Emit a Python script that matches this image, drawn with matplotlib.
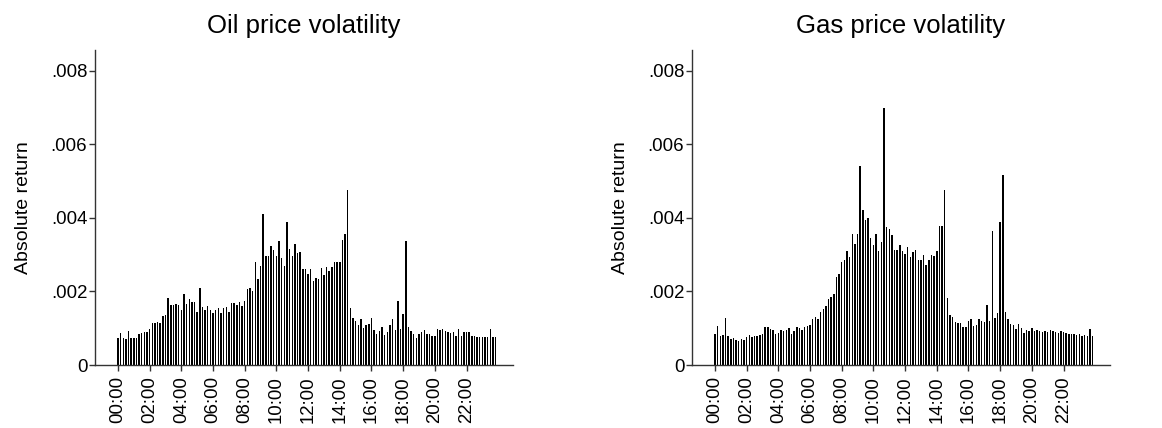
import matplotlib
matplotlib.use("Agg")
import matplotlib.pyplot as plt
import numpy as np

plt.rcParams['font.family'] = ['Liberation Sans', 'DejaVu Sans']

# mean absolute 10-minute returns over the trading day (144 slots)
oil_vol = [
    .00073, .00086, .00074, .00070, .00093, .00073, .00074, .00074, .00083, .00086,
    .00090, .00089, .00097, .00113, .00113, .00118, .00113, .00132, .00136, .00181,
    .00163, .00163, .00166, .00163, .00150, .00193, .00165, .00180, .00172, .00171,
    .00143, .00209, .00157, .00150, .00160, .00150, .00140, .00150, .00156, .00140,
    .00154, .00157, .00143, .00169, .00169, .00162, .00172, .00160, .00174, .00207,
    .00209, .00200, .00280, .00234, .00270, .00410, .00297, .00297, .00324, .00313,
    .00297, .00336, .00290, .00270, .00388, .00315, .00297, .00330, .00303, .00307,
    .00260, .00260, .00247, .00260, .00227, .00236, .00235, .00264, .00245, .00267,
    .00256, .00267, .00280, .00280, .00280, .00340, .00356, .00476, .00154, .00129,
    .00120, .00109, .00125, .00100, .00110, .00112, .00127, .00095, .00084, .00092,
    .00102, .00082, .00090, .00110, .00124, .00095, .00174, .00099, .00139, .00338,
    .00104, .00093, .00085, .00074, .00084, .00091, .00096, .00085, .00085, .00080,
    .00080, .00097, .00095, .00097, .00093, .00090, .00088, .00090, .00080, .00097,
    .00078, .00090, .00090, .00090, .00080, .00078, .00077, .00075, .00077, .00075,
    .00077, .00098, .00077, .00075,
]

gas_vol = [
    .00084, .00106, .00080, .00081, .00127, .00080, .00072, .00073, .00067, .00066,
    .00072, .00067, .00077, .00081, .00075, .00080, .00078, .00082, .00084, .00102,
    .00103, .00099, .00095, .00085, .00088, .00095, .00092, .00094, .00101, .00084,
    .00092, .00103, .00100, .00095, .00104, .00106, .00109, .00125, .00131, .00125,
    .00145, .00152, .00160, .00179, .00186, .00193, .00239, .00246, .00279, .00285,
    .00310, .00294, .00355, .00330, .00355, .00540, .00420, .00395, .00400, .00346,
    .00325, .00356, .00310, .00333, .00698, .00375, .00370, .00352, .00312, .00312,
    .00325, .00310, .00302, .00320, .00294, .00308, .00312, .00284, .00286, .00300,
    .00272, .00286, .00300, .00297, .00310, .00378, .00378, .00476, .00181, .00136,
    .00130, .00117, .00115, .00115, .00104, .00104, .00120, .00124, .00106, .00110,
    .00125, .00119, .00118, .00164, .00120, .00363, .00129, .00142, .00389, .00515,
    .00143, .00125, .00112, .00109, .00098, .00112, .00100, .00087, .00096, .00093,
    .00100, .00093, .00095, .00092, .00090, .00093, .00090, .00095, .00092, .00090,
    .00088, .00093, .00090, .00087, .00085, .00083, .00085, .00082, .00083, .00080,
    .00082, .00080, .00098, .00080,
]

hour_labels = ["%02d:00" % h for h in range(0, 24, 2)]
y_ticks = [0, .002, .004, .006, .008]
y_ticklabels = ["0", ".002", ".004", ".006", ".008"]

W, H = 1162, 428
fig = plt.figure(figsize=(W / 100, H / 100), dpi=100)

panels = [("Oil price volatility", oil_vol, 95), ("Gas price volatility", gas_vol, 692)]
axis_col = "#333333"
ax_w = 418

for title, vals, left_px in panels:
    ax = fig.add_axes([left_px / W, 63 / H, ax_w / W, 315 / H])
    slots = np.arange(len(vals))
    ax.bar(slots, vals, width=0.55, color="black", linewidth=0)

    ax.set_xlim(-8.7, 149.6)
    ax.set_ylim(0, 0.00856)
    ax.set_xticks(slots[::12])
    ax.set_xticklabels(hour_labels, rotation=90, fontsize=13.4)
    ax.set_yticks(y_ticks)
    ax.set_yticklabels(y_ticklabels, fontsize=13.4)
    ax.tick_params(axis='y', length=4, width=1, color=axis_col, pad=1.5)
    ax.tick_params(axis='x', length=4, width=1, color=axis_col, pad=4)

    ax.spines['top'].set_visible(False)
    ax.spines['right'].set_visible(False)
    for s in ('left', 'bottom'):
        ax.spines[s].set_color(axis_col)
        ax.spines[s].set_linewidth(1)

    ax.set_ylabel("Absolute return", fontsize=14)
    ax.yaxis.set_label_coords(-0.15, 0.5)
    ax.set_title(title, fontsize=18.5, pad=12)

fig.savefig("out.png", dpi=100)
